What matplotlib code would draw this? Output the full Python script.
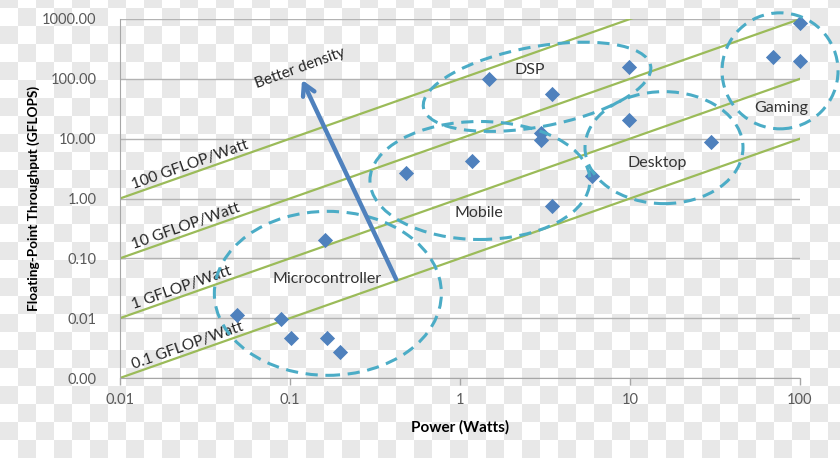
import numpy as np
import matplotlib.pyplot as plt
from matplotlib.patches import Ellipse
from matplotlib.transforms import ScaledTranslation

plt.rcParams['font.family'] = ['Lato', 'DejaVu Sans']

# Processor data points (Watts, GFLOPS)
power = [0.049, 0.088, 0.102, 0.165, 0.198, 0.161, 0.48, 1.17, 1.49, 2.99, 2.99,
         3.5, 3.5, 6.0, 9.9, 9.9, 29.8, 69.7, 100, 100]
gflops = [0.0113, 0.0096, 0.0047, 0.0047, 0.0027, 0.20, 2.7, 4.2, 101, 12.4, 9.6,
          55.5, 0.76, 2.36, 160, 20.7, 8.7, 235, 870, 202]

# GFLOP/Watt efficiency lines
efficiency = [0.1, 1, 10, 100]
eff_labels = ['0.1 GFLOP/Watt', '1 GFLOP/Watt', '10 GFLOP/Watt', '100 GFLOP/Watt']

# Category groups: name, centre (W, GFLOPS), label position, size (px), angle
groups = ['Microcontroller', 'Mobile', 'DSP', 'Desktop', 'Gaming']
group_x = [0.167, 1.31, 2.84, 15.85, 76.3]
group_y = [0.026, 2.0, 73.6, 7.08, 136]
label_x = [0.165, 1.30, 2.58, 14.5, 78]
label_y = [0.046, 0.58, 138, 3.95, 33]
ell_w = [227, 220, 231, 158, 116]
ell_h = [164, 118, 80, 112, 116]
ell_ang = [0, 0, 10.5, 0, 0]

yticks = [0.001, 0.01, 0.1, 1, 10, 100, 1000]
xticks = [0.01, 0.1, 1, 10, 100]

fig = plt.figure(figsize=(8.4, 4.58), dpi=100)

# checkered backdrop
yy, xx = np.mgrid[0:458, 0:840]
checker = ((yy // 18 + xx // 18) % 2).astype(float)
bg = np.where(checker[..., None] > 0, np.array([0.913, 0.913, 0.913]), np.array([1.0, 1.0, 1.0]))
fig.figimage(bg[::-1], xo=0, yo=0, origin='upper', zorder=-10)

ax = fig.add_axes([120 / 840, 1 - 378 / 458, 680 / 840, 359 / 458])
ax.set_facecolor('none')
ax.set_xscale('log')
ax.set_yscale('log')
ax.set_xlim(0.01, 100)
ax.set_ylim(0.001, 1000)

ax.set_yticks(yticks)
ax.set_yticklabels(['%.2f' % v for v in yticks])
ax.set_xticks(xticks)
ax.set_xticklabels(['0.01', '0.1', '1', '10', '100'])
ax.minorticks_off()
ax.tick_params(axis='y', length=0, pad=17, labelsize=10.5, labelcolor='#595959')
ax.tick_params(axis='x', length=5, width=1, color='#a6a6a6', pad=6, labelsize=10.5,
               labelcolor='#595959')
for s in ['top', 'right']:
    ax.spines[s].set_visible(False)
for s in ['left', 'bottom']:
    ax.spines[s].set_color('#a6a6a6')
ax.grid(axis='y', color='#b3b3b3', linewidth=1)
ax.set_axisbelow(True)

# efficiency lines
xs = np.array([0.01, 100])
for k, lab in zip(efficiency, eff_labels):
    ys = k * xs
    ax.plot(xs, ys, color='#9bbb59', linewidth=1.6, zorder=2)
    ax.text(0.0122, k * 0.0122 * 1.04, lab, rotation=19.4, rotation_mode='anchor',
            ha='left', va='bottom', fontsize=11.2, color='#262626', zorder=3)

ax.scatter(power, gflops, marker='D', s=60, color='#4f81bd', linewidths=0, zorder=4,
           clip_on=False)

# group outlines
for i, name in enumerate(groups):
    tr = fig.dpi_scale_trans + ScaledTranslation(group_x[i], group_y[i], ax.transData)
    e = Ellipse((0, 0), ell_w[i] / 100, ell_h[i] / 100, angle=ell_ang[i], transform=tr,
                fill=False, edgecolor='#4bacc6', linewidth=2.2, linestyle=(0, (4, 2.5)),
                clip_on=False, zorder=5)
    ax.add_patch(e)
    ax.text(label_x[i], label_y[i], name, ha='center', va='center', fontsize=11.5,
            color='#333333', zorder=6)

# direction arrow
ax.annotate('', xy=(0.1177, 96), xytext=(0.421, 0.0447),
            arrowprops=dict(arrowstyle='->, head_length=0.8, head_width=0.45', lw=3.2,
                            color='#4f81bd', shrinkA=0, shrinkB=0), zorder=6)
ax.text(0.114, 150, 'Better density', rotation=20, ha='center', va='center',
        fontsize=11, color='#262626')

ax.set_xlabel('Power (Watts)', fontsize=11, fontweight='bold', labelpad=9)
ax.set_ylabel('Floating-Point Throughput (GFLOPS)', fontsize=9.8, fontweight='bold')
ax.yaxis.set_label_coords(-0.118, 0.5)

fig.savefig('out.png', dpi=100)
